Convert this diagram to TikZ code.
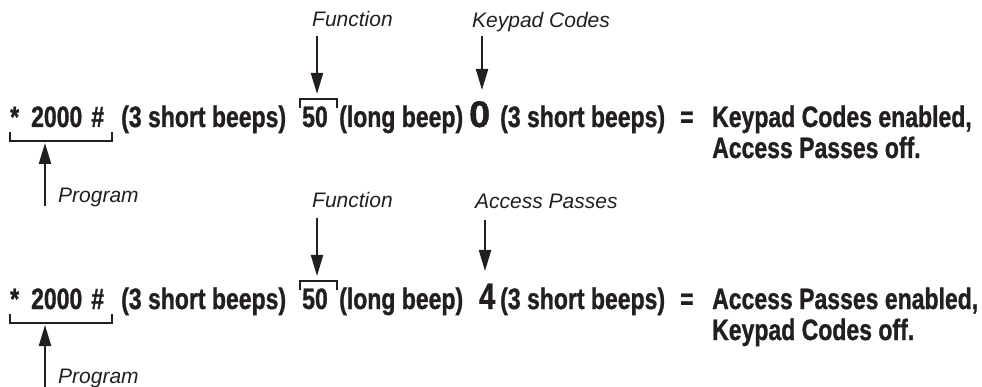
\documentclass[tikz,border=0pt]{standalone}
\usepackage{fontspec}
\setmainfont{Liberation Sans}
\newfontfamily\bodyfont[FakeStretch=0.78,FakeBold=1]{Liberation Sans Bold}
\usetikzlibrary{arrows.meta}
\definecolor{ink}{HTML}{231F20}
\tikzset{
  body/.style={inner sep=0pt, anchor=base west, text=ink, font=\bodyfont\fontsize{29.5}{32}\selectfont},
  big/.style={inner sep=0pt, anchor=base west, text=ink, font=\bodyfont\fontsize{37}{40}\selectfont},
  lbl/.style={inner sep=0pt, anchor=base west, text=ink, font=\itshape\fontsize{21}{24}\selectfont},
  pointer/.style={draw=ink, line width=2.2pt, -{Triangle[length=21pt,width=12pt]}},
  brk/.style={draw=ink, line width=1.8pt}
}
\begin{document}
\begin{tikzpicture}[x=1pt,y=-1pt]
\useasboundingbox (0,0) rectangle (982,387);
% ---------- block 1 ----------
\node[lbl] (f1) at (312,27) {Function};
\node[lbl] (k1) at (472,28) {Keypad Codes};
\node[body] (p1) at (10,127) {*\hskip 12pt 2000\hskip 9pt\#};
\node[body] (s1) at (121,127) {(3 short beeps)};
\node[body] (c1) at (302,127) {50};
\node[body] (l1) at (339,127) {(long beep)};
\node[big] (z1) at (469,127) {\scalebox{1.3}[1]{0}};
\node[body] (t1) at (500,127) {(3 short beeps)};
\node[body] (e1) at (680,127) {=};
\node[body] (r1) at (712,127) {Keypad Codes enabled,};
\node[body] (q1) at (712,158) {Access Passes off.};
\node[lbl] (g1) at (58,203) {Program};
\coordinate (fa1) at (317,36);
\coordinate (fb1) at (317,94);
\coordinate (ka1) at (482,36);
\coordinate (kb1) at (482,90);
\coordinate (pa1) at (45,206);
\coordinate (pb1) at (45,143);
\draw[pointer] (fa1) -- (fb1);
\draw[pointer] (ka1) -- (kb1);
\draw[pointer] (pa1) -- (pb1);
\draw[brk] (300,108) -- (300,99) -- (337,99) -- (337,108);
\draw[brk] (10,132) -- (10,141) -- (112,141) -- (112,132);
% ---------- block 2 ----------
\node[lbl] (f2) at (312,208) {Function};
\node[lbl] (k2) at (475,209) {Access Passes};
\node[body] (p2) at (10,309) {*\hskip 12pt 2000\hskip 9pt\#};
\node[body] (s2) at (121,309) {(3 short beeps)};
\node[body] (c2) at (302,309) {50};
\node[body] (l2) at (339,309) {(long beep)};
\node[big] (z2) at (479,309) {4};
\node[body] (t2) at (500,309) {(3 short beeps)};
\node[body] (e2) at (680,309) {=};
\node[body] (r2) at (712,309) {Access Passes enabled,};
\node[body] (q2) at (712,340) {Keypad Codes off.};
\node[lbl] (g2) at (58,383) {Program};
\coordinate (fa2) at (317,218);
\coordinate (fb2) at (317,276);
\coordinate (ka2) at (485,220);
\coordinate (kb2) at (485,271);
\coordinate (pa2) at (45,387);
\coordinate (pb2) at (45,325);
\draw[pointer] (fa2) -- (fb2);
\draw[pointer] (ka2) -- (kb2);
\draw[pointer] (pa2) -- (pb2);
\draw[brk] (300,290) -- (300,281) -- (337,281) -- (337,290);
\draw[brk] (10,314) -- (10,323) -- (112,323) -- (112,314);
\end{tikzpicture}
\end{document}
